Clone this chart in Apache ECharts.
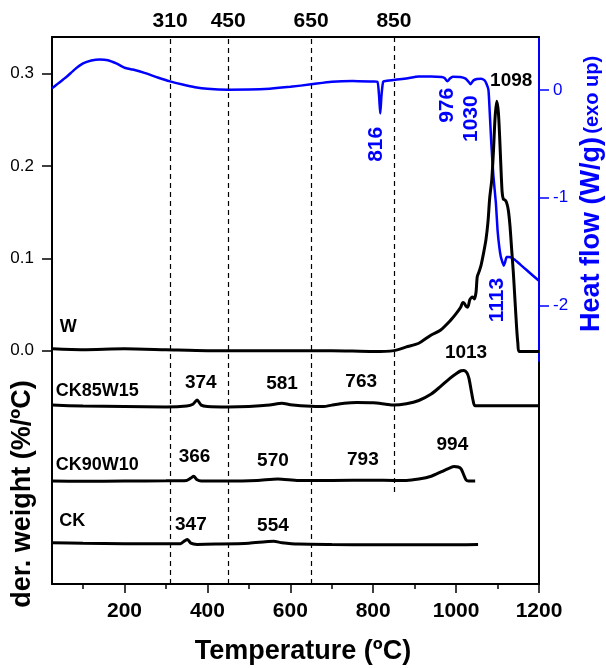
<!DOCTYPE html>
<html>
<head>
<meta charset="utf-8">
<script src="https://cdn.jsdelivr.net/npm/echarts@6/dist/echarts.min.js"></script>
<style>
html,body{margin:0;padding:0;background:#fff}
#main{width:606px;height:668px}
</style>
</head>
<body>
<div id="main"></div>
<script>
// DSC heat flow (right axis, W/g)
var dscT = [25,40,60,80,100,120,140,160,180,200,220,250,280,310,340,370,400,450,500,550,600,650,700,750,800,810,814,817,820,824,830,853,880,910,940,965,972,979,985,992,1010,1023,1030,1035,1041,1050,1060,1068,1073,1078,1081,1085,1090,1096,1100,1104,1108,1112,1115,1118,1122,1128,1140,1155,1170,1185,1200];
var dscV = [0.014,0.06,0.12,0.19,0.245,0.272,0.282,0.275,0.245,0.205,0.188,0.155,0.115,0.079,0.05,0.025,0.01,0.002,0.003,0.011,0.028,0.051,0.075,0.083,0.077,0.075,-0.05,-0.22,-0.05,0.075,0.082,0.094,0.106,0.124,0.125,0.119,0.11,0.079,0.105,0.122,0.12,0.104,0.075,0.052,0.085,0.1,0.104,0.09,0.06,0.0,-0.2,-0.5,-0.8,-1.05,-1.3,-1.45,-1.55,-1.6,-1.63,-1.6,-1.55,-1.55,-1.57,-1.62,-1.67,-1.72,-1.77];

// der. weight curves (left axis, already shifted)
var wT = [25,100,200,300,400,500,600,700,800,850,880,910,940,962,987,1000,1011,1016,1020,1024,1028,1033,1036,1040,1044,1048,1051,1055,1060,1066,1072,1077,1081,1086,1090,1094,1098,1102,1105,1108,1111,1114,1118,1122,1126,1130,1134,1138,1142,1146,1149,1152,1200];
var wV = [0.002,0.001,0.002,0.001,0.0,0.0,0.0,0.0,-0.001,0.0,0.004,0.008,0.017,0.022,0.033,0.04,0.047,0.052,0.051,0.048,0.047,0.055,0.057,0.058,0.056,0.063,0.08,0.085,0.092,0.105,0.12,0.14,0.165,0.185,0.215,0.252,0.27,0.258,0.232,0.2,0.172,0.164,0.163,0.16,0.152,0.135,0.11,0.085,0.055,0.025,0.008,-0.001,-0.001];

var ck85T = [25,100,200,300,350,365,375,385,400,450,500,550,580,600,650,680,700,730,760,800,830,850,880,910,940,962,985,1000,1012,1019,1026,1031,1036,1041,1046,1200];
var ck85V = [-0.059,-0.06,-0.0605,-0.061,-0.06,-0.058,-0.0535,-0.059,-0.0605,-0.061,-0.0605,-0.059,-0.057,-0.0585,-0.0603,-0.0605,-0.059,-0.057,-0.0562,-0.0565,-0.058,-0.059,-0.0575,-0.054,-0.047,-0.039,-0.03,-0.025,-0.0218,-0.0215,-0.024,-0.03,-0.042,-0.054,-0.0598,-0.0598];

var ck90T = [25,100,200,300,350,360,367,374,385,450,520,570,620,700,800,850,880,910,940,965,985,995,1005,1012,1018,1024,1030,1046];
var ck90V = [-0.1412,-0.1415,-0.1412,-0.141,-0.1405,-0.138,-0.136,-0.1395,-0.1412,-0.1412,-0.1405,-0.139,-0.1405,-0.1405,-0.1403,-0.1405,-0.1405,-0.139,-0.136,-0.131,-0.127,-0.1255,-0.126,-0.128,-0.134,-0.14,-0.1412,-0.1412];

var ckT = [25,100,200,300,335,345,352,360,375,420,500,540,560,580,620,700,800,900,1000,1053];
var ckV = [-0.208,-0.2085,-0.209,-0.2092,-0.209,-0.206,-0.2045,-0.2085,-0.2098,-0.2095,-0.2085,-0.207,-0.2065,-0.208,-0.2095,-0.21,-0.2102,-0.2102,-0.2102,-0.21];

var xTicks = [200,400,600,800,1000,1200];
var xMinor = [100,300,500,700,900,1100];
var topTicks = [310,450,650,850];
var leftTicks = [0,0.1,0.2,0.3];
var rightTicks = [0,-1,-2];

// annotations [temperature, value, text]
var sampleNotes = [[64,0.0254,'W'],[134,-0.0438,'CK85W15'],[134,-0.1239,'CK90W10'],[74,-0.1845,'CK']];
var peakNotes = [[1133,0.2927,'1098'],[384,-0.0352,'374'],[580,-0.0363,'581'],[771,-0.0341,'763'],[1024,-0.0027,'1013'],
                 [369,-0.1153,'366'],[558,-0.1196,'570'],[775,-0.1185,'793'],[991,-0.1023,'994'],
                 [360,-0.1889,'347'],[558,-0.1899,'554']];
var dscNotes = [[808,-0.505,'816'],[979,-0.1435,'976'],[1036,-0.267,'1030'],[1098,-1.949,'1113']];

var xMin = 25, xMax = 1200;
var yMin = -0.2527, yMax = 0.3396;
var rMin = -4.58, rMax = 0.49;

var FONT = 'Liberation Sans, Arial, sans-serif';
var BLUE = '#0000ff';

function zip(a, b) { return a.map(function(t, i){ return [t, b[i]]; }); }
function notes(arr) { return arr.map(function(n){ return {value:[n[0], n[1]], name:n[2]}; }); }

function curve(name, data) {
    return {
        name: name, type: 'line', yAxisIndex: 0, data: data,
        showSymbol: false, smooth: 0.25, animation: false,
        lineStyle: {color: '#000', width: 3}
    };
}

function textLayer(axisIdx, data, color, size, rot) {
    return {
        type: 'scatter', yAxisIndex: axisIdx, symbolSize: 1, data: notes(data), silent: true,
        itemStyle: {color: 'rgba(0,0,0,0)', opacity: 1},
        label: {show: true, position: 'inside', rotate: rot || 0, formatter: '{b}', color: color,
            fontSize: size, fontWeight: 'bold', fontFamily: FONT, opacity: 1}
    };
}

var wSeries = curve('W', zip(wT, wV));
wSeries.markLine = {
    silent: true, symbol: ['none','none'], animation: false,
    label: {show: false},
    lineStyle: {color: '#000', width: 1.2, type: [5,4]},
    data: [
        {xAxis: topTicks[0]}, {xAxis: topTicks[1]}, {xAxis: topTicks[2]},
        [{coord: [topTicks[3], yMax]}, {coord: [topTicks[3], -0.155]}]
    ]
};

var option = {
    animation: false,
    textStyle: {fontFamily: FONT},
    grid: {left: 52, right: 67, top: 37, bottom: 84},
    xAxis: [{
        type: 'value', min: xMin, max: xMax, position: 'bottom',
        axisLine: {onZero: false, lineStyle: {color: '#000', width: 2}},
        axisTick: {customValues: xTicks, length: 9, lineStyle: {width: 1.5}},
        axisLabel: {customValues: xTicks, margin: 17, color: '#000', fontSize: 21, fontWeight: 'bold', fontFamily: FONT,
            formatter: function(v){ return String(v); }},
        splitLine: {show: false}
    }, {
        type: 'value', min: xMin, max: xMax, position: 'top',
        axisLine: {onZero: false, lineStyle: {color: '#000', width: 2}},
        axisTick: {show: false},
        axisLabel: {customValues: topTicks, margin: 5, color: '#000', fontSize: 21, fontWeight: 'bold', fontFamily: FONT,
            formatter: function(v){ return String(v); }},
        splitLine: {show: false}
    }, {
        type: 'value', min: xMin, max: xMax, position: 'bottom',
        axisLine: {show: false, onZero: false},
        axisTick: {customValues: xMinor, length: 5, lineStyle: {color: '#000', width: 1.5}},
        axisLabel: {show: false},
        splitLine: {show: false}
    }],
    yAxis: [{
        type: 'value', min: yMin, max: yMax, position: 'left',
        axisLine: {show: true, onZero: false, lineStyle: {color: '#000', width: 2}},
        axisTick: {show: true, customValues: leftTicks, length: 10, lineStyle: {width: 1.5}},
        axisLabel: {customValues: leftTicks, margin: 18, color: '#000', fontSize: 17, fontFamily: FONT,
            formatter: function(v){ return v.toFixed(1); }},
        splitLine: {show: false}
    }, {
        type: 'value', min: rMin, max: rMax, position: 'right',
        axisLine: {show: true, onZero: false, lineStyle: {color: BLUE, width: 2}},
        axisTick: {show: true, customValues: rightTicks, length: 10, lineStyle: {color: BLUE, width: 1.5}},
        axisLabel: {customValues: rightTicks, margin: 14, color: BLUE, fontSize: 17, fontFamily: FONT,
            formatter: function(v){ return String(Math.round(v)); }},
        splitLine: {show: false}
    }],
    series: [
        {
            name: 'DSC', type: 'line', yAxisIndex: 1, data: zip(dscT, dscV),
            showSymbol: false, smooth: 0.2, animation: false,
            lineStyle: {color: BLUE, width: 2.5},
            markLine: {
                silent: true, symbol: ['none','none'], animation: false,
                label: {show: false},
                lineStyle: {color: '#000', width: 2, type: 'solid'},
                data: [[{coord: [xMax, -2.52]}, {coord: [xMax, rMin]}]]
            }
        },
        wSeries,
        curve('CK85W15', zip(ck85T, ck85V)),
        curve('CK90W10', zip(ck90T, ck90V)),
        curve('CK', zip(ckT, ckV)),
        textLayer(0, sampleNotes, '#000', 18),
        textLayer(0, peakNotes, '#000', 19),
        textLayer(1, dscNotes, BLUE, 21, 90)
    ],
    graphic: [
        {type: 'text', x: 303, y: 652, style: {text: 'Temperature (ºC)', font: 'bold 27px ' + FONT, fill: '#000', align: 'center', verticalAlign: 'middle'}},
        {type: 'text', x: 23, y: 494, rotation: Math.PI / 2, style: {text: 'der. weight (%/ºC)', font: 'bold 27px ' + FONT, fill: '#000', align: 'center', verticalAlign: 'middle'}},
        {type: 'text', x: 592, y: 194, rotation: Math.PI / 2, style: {
            text: '{a|Heat flow (W/g)} {b|(exo up)}', align: 'center', verticalAlign: 'middle',
            rich: {
                a: {font: 'bold 27px ' + FONT, fill: BLUE},
                b: {font: 'bold 20px ' + FONT, fill: BLUE}
            }
        }}
    ]
};

var myChart = echarts.init(document.getElementById('main'));
myChart.setOption(option);
</script>
</body>
</html>
